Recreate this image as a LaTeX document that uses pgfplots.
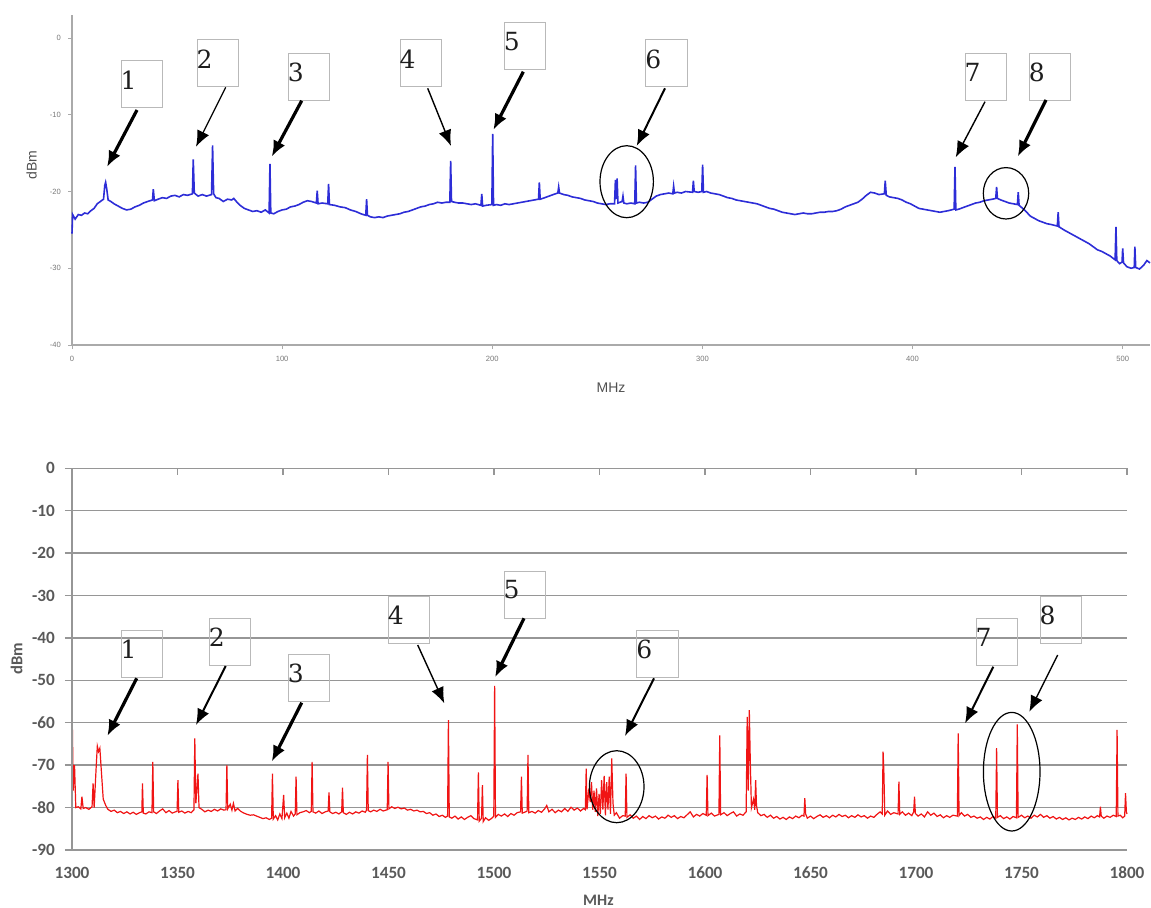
\documentclass[border=0pt]{standalone}
\usepackage{fontspec}
\usepackage{pgfplots}
\pgfplotsset{compat=1.18}
\usetikzlibrary{arrows.meta}
\newfontfamily\carlito{Carlito}
\newfontfamily\dvserif{DejaVu Serif}
\newfontfamily\libsans{Liberation Sans}
\definecolor{bluetrace}{RGB}{45,45,215}
\definecolor{redtrace}{RGB}{240,20,20}
\definecolor{gridgray}{RGB}{150,150,150}
\definecolor{axgray}{RGB}{170,170,170}
\definecolor{ticktxt}{RGB}{120,120,120}
\definecolor{labtxt}{RGB}{89,89,89}
\definecolor{boxgray}{RGB}{185,185,185}
\newcommand{\annbox}[3]{\draw[boxgray, line width=0.5pt] (#1,#2) rectangle ++(41.5,47);
  \node[font=\dvserif\fontsize{12.5}{13}\selectfont, text={rgb,255:red,30;green,30;blue,30}, inner sep=0pt] at ($(#1,#2)+(7.5,19)$) {#3};}
\newcommand{\arr}[5]{\draw[line width=#5, -{Latex[length=8pt,width=6.5pt]}] (#1,#2) -- (#3,#4);}
\usetikzlibrary{calc}
\begin{document}
\begin{tikzpicture}
\useasboundingbox (0,0) rectangle (575.5pt,453.5pt);
% ---------------- top panel ----------------
\begin{axis}[at={(36pt,281pt)}, anchor=south west, scale only axis,
  width=539pt, height=165pt,
  xmin=0, xmax=513, ymin=-40, ymax=3,
  axis x line*=bottom, axis y line*=left,
  axis line style={axgray, line width=0.8pt},
  xtick={0,100,200,300,400,500}, ytick={0,-10,-20,-30,-40},
  tick align=outside, major tick length=2pt,
  tick style={axgray, line width=0.5pt},
  /pgf/number format/assume math mode=true,
  ticklabel style={font=\libsans\fontsize{3.8}{4}\selectfont, text=ticktxt},
  xlabel={MHz}, ylabel={dBm},
  xlabel style={font=\libsans\fontsize{7}{8}\selectfont, text={rgb,255:red,80;green,80;blue,80}, at={(axis description cs:0.5,-0.13)}, anchor=center},
  ylabel style={font=\libsans\fontsize{7}{8}\selectfont, text={rgb,255:red,80;green,80;blue,80}, at={(axis description cs:-0.0374,0.545)}, anchor=center},
  clip=false]
\addplot[bluetrace, line width=0.8pt, sharp plot, no marks] table {
0 -25.5
0.3 -23.0
1.5 -23.6
3 -23.0
4.5 -23.1
6 -22.8
7.5 -22.9
9 -22.5
10.5 -22.2
12 -21.6
13.5 -21.3
15 -21.0
15.6 -19.2
16.0 -18.8
16.5 -19.6
17.2 -21.1
18.5 -21.3
20 -21.6
22 -21.9
24 -22.2
26 -22.4
28 -22.3
30 -22.0
32 -21.8
34 -21.5
36 -21.3
38.3 -21.1
38.7 -19.7
39.2 -21.2
41 -21.0
43 -20.8
45 -20.9
47 -20.6
49 -20.5
51 -20.7
53 -20.4
55 -20.5
57.3 -20.3
57.7 -15.8
58.2 -20.2
60 -20.6
62 -20.4
64 -20.6
66.4 -20.4
66.9 -14.0
67.4 -20.3
68.5 -20.8
70 -20.9
72 -21.3
74 -21.0
76 -21.1
77 -20.9
78.5 -21.4
80 -21.8
82 -22.2
84 -22.4
86 -22.6
88 -22.5
90 -22.7
92 -22.4
93.8 -22.8
94.2 -16.4
94.6 -22.8
96 -22.9
98 -22.6
100 -22.4
102 -22.3
104 -22.0
106 -21.9
108 -21.7
110 -21.4
112 -21.2
114 -21.3
116.3 -21.5
116.7 -19.9
117.1 -21.6
119 -21.5
121.7 -21.6
122.1 -19.0
122.5 -21.7
125 -21.8
127.5 -22.0
130 -22.1
132.5 -22.4
135 -22.6
137.5 -22.9
139.8 -23.1
140.2 -21.0
140.6 -23.1
142 -23.3
144 -23.4
146 -23.3
148 -23.4
150 -23.2
152 -23.1
154 -23.0
156 -22.9
158 -22.7
160 -22.6
162 -22.4
164 -22.2
166 -22.0
168 -21.9
170 -21.7
172 -21.6
174 -21.4
176 -21.5
178 -21.4
179.8 -21.4
180.2 -16.0
180.6 -21.3
182 -21.4
184 -21.5
186 -21.5
188 -21.6
190 -21.7
192 -21.6
194.6 -21.8
195 -20.3
195.4 -21.9
197 -21.8
199.8 -21.7
200.2 -12.5
200.6 -21.8
202 -21.7
204 -21.8
206 -21.6
208 -21.7
210 -21.6
212 -21.5
214 -21.4
216 -21.3
218 -21.2
220 -21.1
222.0 -21.0
222.4 -18.8
222.8 -21.0
224 -20.9
226 -20.7
228 -20.5
230 -20.3
231.2 -20.2
231.6 -19.4
232 -20.2
234 -20.4
236 -20.5
238 -20.7
240 -20.8
242 -20.9
244 -21.1
246 -21.2
248 -21.3
250 -21.5
252 -21.6
254 -21.7
256 -21.6
258.2 -21.6
258.6 -18.5
259 -21.0
259.4 -18.3
259.8 -21.5
261.8 -21.3
262.2 -20.6
262.6 -21.5
264 -21.6
266 -21.5
267.8 -21.6
268.2 -16.6
268.6 -21.5
270 -21.4
272 -21.5
274 -21.4
276 -21.0
278 -20.6
280 -20.4
282 -20.3
284 -20.2
285.9 -20.3
286.3 -19.3
286.7 -20.2
288 -20.1
290 -20.2
292 -20.0
295.3 -20.1
295.7 -18.6
296.1 -20.0
298 -20.1
299.7 -20.0
300.1 -16.5
300.5 -20.1
302 -20.0
304 -20.2
306 -20.3
308 -20.4
310 -20.6
312 -20.8
314 -20.9
316 -21.1
318 -21.2
320 -21.3
322 -21.4
324 -21.5
326 -21.6
328 -21.8
330 -22.0
332 -22.2
334 -22.3
336 -22.5
338 -22.7
340 -22.8
342 -22.9
344 -23.0
346 -22.9
348 -22.8
350 -22.9
352 -22.9
354 -22.8
356 -22.7
358 -22.7
360 -22.6
362 -22.6
364 -22.5
366 -22.3
368 -22.0
370 -21.8
372 -21.6
374 -21.4
376 -21.0
378 -20.5
380 -20.1
382 -20.2
384 -20.4
386.6 -20.3
387 -18.6
387.5 -20.5
389 -20.7
391 -20.8
393 -20.9
395 -21.1
397 -21.4
399 -21.6
401 -21.9
403 -22.2
405 -22.3
407 -22.4
409 -22.5
411 -22.6
413 -22.7
415 -22.6
417 -22.5
419.8 -22.3
420.2 -16.8
420.6 -22.4
422 -22.3
424 -22.1
426 -21.9
428 -21.7
430 -21.5
432 -21.4
434 -21.2
436 -21.1
438 -21.0
439.6 -20.9
440 -19.4
440.4 -20.9
442 -21.1
444 -21.3
446 -21.5
448 -21.6
449.9 -21.7
450.3 -20.1
450.7 -21.8
452 -22.1
454 -22.6
456 -23.2
458 -23.5
460 -23.8
462 -24.0
464 -24.2
466 -24.3
468.9 -24.5
469.3 -22.7
469.7 -24.6
472 -25.0
474 -25.3
476 -25.6
478 -25.9
480 -26.2
482 -26.5
484 -26.8
486 -27.2
488 -27.6
490 -27.8
492 -28.1
494 -28.4
496.4 -28.9
496.8 -24.6
497.2 -29.0
498.5 -29.4
499.7 -29.2
500.0 -27.4
500.4 -29.3
502 -29.8
504 -30.0
505.5 -29.9
505.8 -27.2
506.2 -29.9
508 -30.1
510 -29.6
511.5 -29.0
513 -29.3
};
\end{axis}
% ---------------- bottom panel ----------------
\begin{axis}[at={(36pt,28.5pt)}, anchor=south west, scale only axis,
  width=527.5pt, height=190.85pt,
  xmin=1300, xmax=1800, ymin=-90, ymax=0,
  axis line style={draw=none},
  xtick={1300,1350,...,1800}, ytick={-90,-80,...,0},
  xtick pos=upper, xticklabel pos=lower, ytick pos=left,
  xtick align=inside, ytick align=outside,
  major tick length=3.5pt,
  tick style={gridgray, line width=0.7pt},
  ymajorgrids, grid style={gridgray, line width=0.7pt},
  /pgf/number format/assume math mode=true,
  /pgf/number format/1000 sep={},
  ticklabel style={font=\carlito\bfseries\fontsize{8.6}{9}\selectfont, text=labtxt},
  xticklabel style={yshift=-5pt},
  yticklabel style={xshift=-1.5pt},
  xlabel={MHz}, ylabel={dBm},
  xlabel style={font=\carlito\bfseries\fontsize{8}{9}\selectfont, text=labtxt, at={(axis description cs:0.499,-0.131)}, anchor=center},
  ylabel style={font=\carlito\bfseries\fontsize{8.3}{9}\selectfont, text=labtxt, at={(axis description cs:-0.0524,0.502)}, anchor=center},
  clip=false]
\addplot[redtrace, line width=0.6pt, sharp plot, no marks] table {
1300 -55
1300.6 -76
1301.2 -70
1301.8 -80
1303 -79.8
1304.2 -80.3
1304.7 -77.4
1305.3 -80.2
1306.5 -80.0
1308 -80.4
1309.5 -79.8
1310 -74.3
1310.5 -80
1311.5 -70
1312 -65.5
1312.6 -66.8
1313.2 -66
1314 -72
1314.8 -78
1316 -79.5
1317 -80.4
1318.5 -80.9
1320 -80.6
1321.5 -81.2
1323 -80.9
1324.5 -81.4
1326 -81.0
1327.5 -81.5
1329 -81.1
1330.5 -81.6
1332 -81.2
1333.1 -81
1333.4 -74.3
1333.8 -81.3
1335 -81.5
1336.5 -81.0
1337.9 -81.2
1338.3 -69.2
1338.7 -81.0
1340 -81.4
1341.5 -80.8
1343 -80.3
1344.5 -81.2
1346 -80.7
1347.5 -81.3
1349 -81.0
1349.8 -80.9
1350.2 -73.5
1350.6 -81.1
1352 -80.8
1353.5 -81.3
1355 -80.9
1356.5 -81.2
1357.8 -80.5
1358.2 -63.7
1358.7 -79
1359.3 -75
1359.7 -72
1360.2 -80
1361.5 -80.4
1363 -81.0
1364.5 -80.6
1366 -80.9
1367.5 -80.4
1369 -80.8
1370.5 -80.3
1372 -80.6
1373.0 -80.5
1373.4 -70
1373.8 -80.3
1375 -79.2
1375.8 -80.6
1376.5 -79.0
1377.3 -80.8
1378.5 -80.2
1380 -80.9
1381.5 -81.3
1383 -81.6
1384.5 -81.8
1386 -81.7
1387.5 -82.0
1389 -82.3
1390.5 -82.6
1392 -82.4
1393.5 -82.8
1394.6 -82.5
1395 -72
1395.4 -82.7
1396.5 -81.9
1397.5 -82.9
1398.5 -81.5
1399.5 -82.6
1400.3 -77
1400.8 -82.4
1401.8 -81.3
1402.8 -82.5
1403.8 -80.9
1405 -82.0
1405.8 -81.5
1406.2 -72.7
1406.6 -81.7
1408 -81.2
1409.5 -81.0
1411 -80.7
1412.5 -81.2
1413.4 -80.9
1413.8 -69.2
1414.2 -81.0
1415.5 -81.3
1417 -80.8
1418.5 -81.4
1420 -81.0
1421.4 -80.8
1421.8 -76.4
1422.2 -81.0
1423.5 -81.4
1425 -81.1
1426.5 -81.5
1427.8 -81.0
1428.2 -75.3
1428.6 -81.2
1430 -81.6
1431.5 -81.1
1433 -81.5
1434.5 -81.0
1436 -81.3
1437.5 -80.8
1439 -81.1
1439.6 -80.6
1440 -67.6
1440.4 -80.7
1441.5 -81.0
1443 -80.6
1444.5 -80.9
1446 -80.4
1447.5 -80.8
1449.4 -80.5
1449.8 -69.2
1450.2 -80.3
1451.5 -79.8
1453 -80.2
1454.5 -79.9
1456 -80.3
1457.5 -80.1
1459 -80.6
1460.5 -80.4
1462 -80.8
1463.5 -80.6
1465 -81.0
1466.5 -80.9
1468 -81.4
1469.5 -81.2
1471 -81.8
1472.5 -81.5
1474 -82.1
1475.5 -81.8
1477 -82.3
1478.0 -82
1478.4 -59.4
1478.8 -82.2
1480 -82.5
1481.5 -82.0
1483 -82.7
1484.5 -82.2
1486 -82.8
1487.5 -82.3
1489 -81.9
1490.5 -82.6
1492.2 -82.9
1492.6 -71.7
1493 -83.2
1494.1 -82.5
1494.5 -74.7
1494.9 -83.3
1496 -82.4
1497.5 -83.0
1499 -82.5
1499.9 -82.0
1500.3 -51.3
1500.7 -82.3
1502 -81.6
1503.5 -82.0
1505 -81.5
1506.5 -82.1
1508 -81.4
1509.5 -81.8
1511 -81.2
1512.6 -81.0
1513 -72.7
1513.4 -81.3
1515 -81.0
1515.7 -80.8
1516.1 -67.6
1516.5 -81.2
1518 -80.9
1519.5 -81.3
1521 -80.7
1522.5 -81.1
1524 -80.3
1525 -79.5
1526 -81.0
1527.5 -80.4
1529 -81.2
1530.5 -80.6
1532 -81.0
1533.5 -80.2
1535 -80.9
1536.5 -79.9
1538 -80.6
1539.5 -80.1
1541 -80.8
1542.5 -80.2
1543.3 -80.5
1543.7 -70.8
1544.1 -80.4
1545 -75.5
1545.6 -78.7
1546.2 -74.0
1546.8 -80.5
1547.4 -76.0
1548 -81.0
1548.6 -75.5
1549.2 -82.0
1549.8 -76.8
1550.4 -81.5
1551 -73.5
1551.6 -80.5
1552.2 -72.5
1552.8 -81.8
1553.4 -74.0
1554 -80.5
1554.6 -72.7
1555.2 -81.5
1555.8 -68.4
1556.4 -79.0
1557 -81.8
1558 -81.2
1559.5 -82.5
1561 -81.9
1562.2 -82.0
1562.6 -72
1563 -82.3
1564.5 -81.7
1566 -82.5
1567.5 -82.0
1569 -82.8
1570.5 -82.1
1572 -82.6
1573.5 -81.9
1575 -82.4
1576.5 -82.0
1578 -82.7
1579.5 -82.2
1581 -82.5
1582.5 -81.8
1584 -82.3
1585.5 -81.9
1587 -82.6
1588.5 -82.1
1590 -82.4
1591.5 -81.7
1593 -81.0
1594.5 -82.2
1596 -81.6
1597.5 -82.0
1599 -81.4
1600.6 -81.8
1601 -72.3
1601.4 -81.9
1603 -81.3
1604.5 -82.0
1606.6 -81.6
1607 -63
1607.4 -81.7
1609 -81.2
1610.5 -81.9
1612 -81.4
1613.5 -81.0
1615 -82.0
1616.5 -81.5
1618 -81.8
1619.5 -81.0
1620 -58.6
1620.5 -76
1621 -57
1621.5 -70
1622 -80
1623 -78
1623.6 -80.5
1624 -73.5
1624.4 -79.5
1625 -81.2
1626.5 -81.9
1628 -81.6
1629.5 -82.3
1631 -81.8
1632.5 -82.5
1634 -82.1
1635.5 -82.7
1637 -82.3
1638.5 -82.8
1640 -82.2
1641.5 -82.6
1643 -82.0
1644.5 -82.4
1646 -81.8
1646.9 -82.0
1647.3 -77.8
1647.7 -81.5
1648.5 -82.5
1650 -82.0
1651.5 -82.6
1653 -82.1
1654.5 -81.7
1656 -82.3
1657.5 -81.9
1659 -82.4
1660.5 -81.8
1662 -82.2
1663.5 -81.6
1665 -82.1
1666.5 -81.8
1668 -82.4
1669.5 -81.9
1671 -82.3
1672.5 -81.7
1674 -82.2
1675.5 -81.9
1677 -82.5
1678.5 -82.0
1680 -82.3
1681.5 -81.6
1683 -81.0
1684.0 -81.5
1684.4 -66.8
1684.8 -72
1685.2 -81.8
1686.5 -80.8
1688 -81.6
1689.5 -81.2
1691.5 -81.5
1691.9 -73.9
1692.3 -81.6
1693.5 -81.0
1695 -81.8
1696.5 -81.3
1698 -81.9
1698.9 -81.0
1699.3 -77.4
1699.7 -81.4
1701 -82.0
1702.5 -81.5
1704 -82.2
1705.5 -81.0
1707 -81.8
1708.5 -81.3
1710 -82.1
1711.5 -81.7
1713 -82.4
1714.5 -81.9
1716 -82.3
1717.5 -81.8
1719.6 -82.0
1720 -62.5
1720.4 -81.9
1721.5 -81.2
1723 -82.0
1724.5 -81.6
1726 -82.3
1727.5 -82.0
1729 -82.5
1730.5 -82.2
1732 -82.8
1733.5 -82.3
1735 -82.7
1736.5 -82.1
1737.8 -82.5
1738.2 -66
1738.6 -82.3
1740 -81.9
1741.5 -82.6
1743 -82.2
1744.5 -82.7
1746 -82.1
1747.6 -82.4
1748 -60.4
1748.4 -82.3
1750 -81.8
1751.5 -82.4
1753 -82.0
1754.5 -82.5
1756 -81.8
1757.5 -82.2
1759 -81.6
1760.5 -82.3
1762 -81.9
1763.5 -82.5
1765 -82.1
1766.5 -82.7
1768 -82.3
1769.5 -82.8
1771 -82.4
1772.5 -82.9
1774 -82.5
1775.5 -82.8
1777 -82.3
1778.5 -82.7
1780 -82.2
1781.5 -82.6
1783 -82.0
1784.5 -82.4
1786 -81.9
1787.0 -82.2
1787.4 -79.8
1787.8 -82.0
1789 -82.5
1790.5 -82.0
1792 -82.3
1793.5 -81.8
1794.9 -82.1
1795.3 -61.7
1795.7 -82.0
1796.8 -81.8
1798 -82.4
1798.9 -82.0
1799.3 -76.6
1799.7 -81
1800 -81.5
};
\end{axis}
% ---------------- annotations (pixel coordinates, y downward) ----------------
\begin{scope}[x=0.5pt, y=-0.5pt, yshift=453.5pt]
\draw[gridgray, line width=0.7pt] (72,468.3) -- (72,850);
% top panel
\annbox{121}{61}{1}
\annbox{197}{40}{2}
\annbox{288.3}{53.3}{3}
\annbox{400}{40}{4}
\annbox{504.3}{22.3}{5}
\annbox{645.7}{40}{6}
\annbox{965}{53.3}{7}
\annbox{1029.3}{53.3}{8}
\arr{137}{110}{107}{167}{1.6pt}
\arr{225.7}{87.3}{196}{146.7}{0.6pt}
\arr{301.7}{100.7}{271.7}{156.7}{1.6pt}
\arr{427.7}{88.3}{451}{146}{0.7pt}
\arr{523.3}{71.7}{493.3}{130}{1.6pt}
\arr{665}{88.3}{636.7}{146}{1pt}
\arr{985}{101.7}{955.7}{157.3}{0.7pt}
\arr{1046}{100}{1017.7}{156.7}{1.6pt}
\draw[black, line width=0.6pt] (626.7,181.7) ellipse [x radius=26.7, y radius=36];
\draw[black, line width=0.6pt] (1006,193.3) ellipse [x radius=22.7, y radius=25.7];
% bottom panel
\annbox{121}{630}{1}
\annbox{209.3}{618.3}{2}
\annbox{288.3}{654}{3}
\annbox{388.3}{596.7}{4}
\annbox{504}{571}{5}
\annbox{636.7}{630}{6}
\annbox{976}{618.3}{7}
\annbox{1040}{596.7}{8}
\arr{136.7}{678.3}{107.3}{736}{1.6pt}
\arr{225.7}{666}{196}{725}{1pt}
\arr{301.7}{702.7}{271.7}{761.7}{1.6pt}
\arr{417.7}{645}{444.3}{703.3}{0.7pt}
\arr{524}{618.3}{495}{677.3}{1.6pt}
\arr{654}{678.3}{625}{736}{1pt}
\arr{993.3}{666.7}{965}{723.3}{1pt}
\arr{1057.7}{655}{1029.3}{711.7}{0.7pt}
\draw[black, line width=0.6pt] (616.7,786.7) ellipse [x radius=27.3, y radius=36];
\draw[black, line width=0.6pt] (1011.7,771.7) ellipse [x radius=28.3, y radius=59.3];
\end{scope}
\end{tikzpicture}
\end{document}
